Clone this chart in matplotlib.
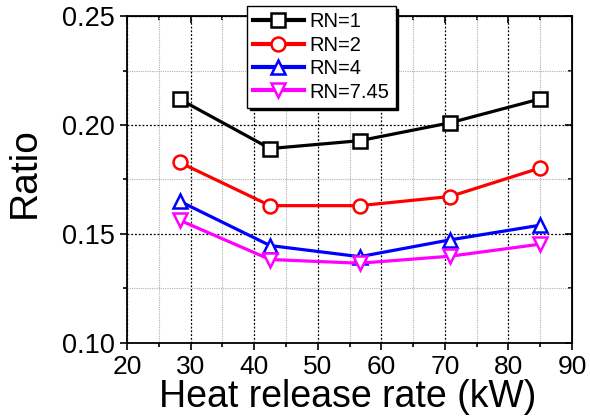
import matplotlib
matplotlib.use("Agg")
import matplotlib.pyplot as plt
from matplotlib.ticker import MultipleLocator

plt.rcParams['font.family'] = ['Liberation Sans', 'DejaVu Sans']

hrr = [28.3, 42.5, 56.6, 70.8, 84.9]
rn1 = [0.2118, 0.1892, 0.1928, 0.2010, 0.2119]
rn2 = [0.1828, 0.1630, 0.1630, 0.1672, 0.1802]
rn4 = [0.1650, 0.1447, 0.1396, 0.1473, 0.1540]
rn745 = [0.1563, 0.1383, 0.1366, 0.1398, 0.1453]
labels = ["RN=1", "RN=2", "RN=4", "RN=7.45"]

fig = plt.figure(figsize=(5.9, 4.19), dpi=100)
ax = fig.add_axes([0.2153, 0.1814, 0.7542, 0.7804])

styles = [("black", "s"), ("red", "o"), ("blue", "^"), ("magenta", "v")]
for ys, lab, (c, m) in zip([rn1, rn2, rn4, rn745], labels, styles):
    ax.plot(hrr, ys, color=c, marker=m, lw=2.3, ms=10, mew=1.8,
            mfc="white", mec=c, label=lab, zorder=3)

ax.set_xlim(20, 90)
ax.set_ylim(0.10, 0.25)
ax.xaxis.set_major_locator(MultipleLocator(10))
ax.xaxis.set_minor_locator(MultipleLocator(5))
ax.set_yticks([0.10, 0.15, 0.20, 0.25])
ax.set_yticklabels(["0.10", "0.15", "0.20", "0.25"])
ax.yaxis.set_minor_locator(MultipleLocator(0.025))

ax.grid(which="major", color="black", ls=(0, (1.5, 1.5)), lw=0.9)
ax.grid(which="minor", color="#b0b0b0", ls=(0, (1, 1)), lw=0.8)
ax.set_axisbelow(True)

ax.tick_params(which="both", direction="out", labelsize=19.5, width=1.2)
ax.tick_params(axis="x", labelsize=19, pad=4)
ax.tick_params(which="major", length=5)
ax.tick_params(which="minor", length=3)
for s in ax.spines.values():
    s.set_linewidth(1.3)

secx = ax.secondary_xaxis("top")
secx.xaxis.set_major_locator(MultipleLocator(10))
secx.xaxis.set_minor_locator(MultipleLocator(5))
secx.tick_params(which="both", direction="in", labeltop=False, width=1.2)
secx.tick_params(which="major", length=5)
secx.tick_params(which="minor", length=3)
secy = ax.secondary_yaxis("right")
secy.yaxis.set_major_locator(MultipleLocator(0.05))
secy.yaxis.set_minor_locator(MultipleLocator(0.025))
secy.tick_params(which="both", direction="in", labelright=False, width=1.2)
secy.tick_params(which="major", length=5)
secy.tick_params(which="minor", length=3)

ax.set_xlabel("Heat release rate (kW)", fontsize=27, va="bottom")
ax.xaxis.set_label_coords(0.495, -0.22)
ax.set_ylabel("Ratio", fontsize=28)
ax.yaxis.set_label_coords(-0.19, 0.52)

leg = ax.legend(loc="upper left", bbox_to_anchor=(0.27, 1.03), borderaxespad=0,
                fontsize=14.5, frameon=True, fancybox=False, edgecolor="black",
                shadow={"color": "black", "alpha": 1}, handlelength=2.5,
                handletextpad=0.3, labelspacing=0.22, borderpad=0.3)
leg.get_frame().set_linewidth(1.0)
for ln in leg.get_lines():
    ln.set_linewidth(3)
leg.set_zorder(5)

fig.savefig("out.png", dpi=100)
